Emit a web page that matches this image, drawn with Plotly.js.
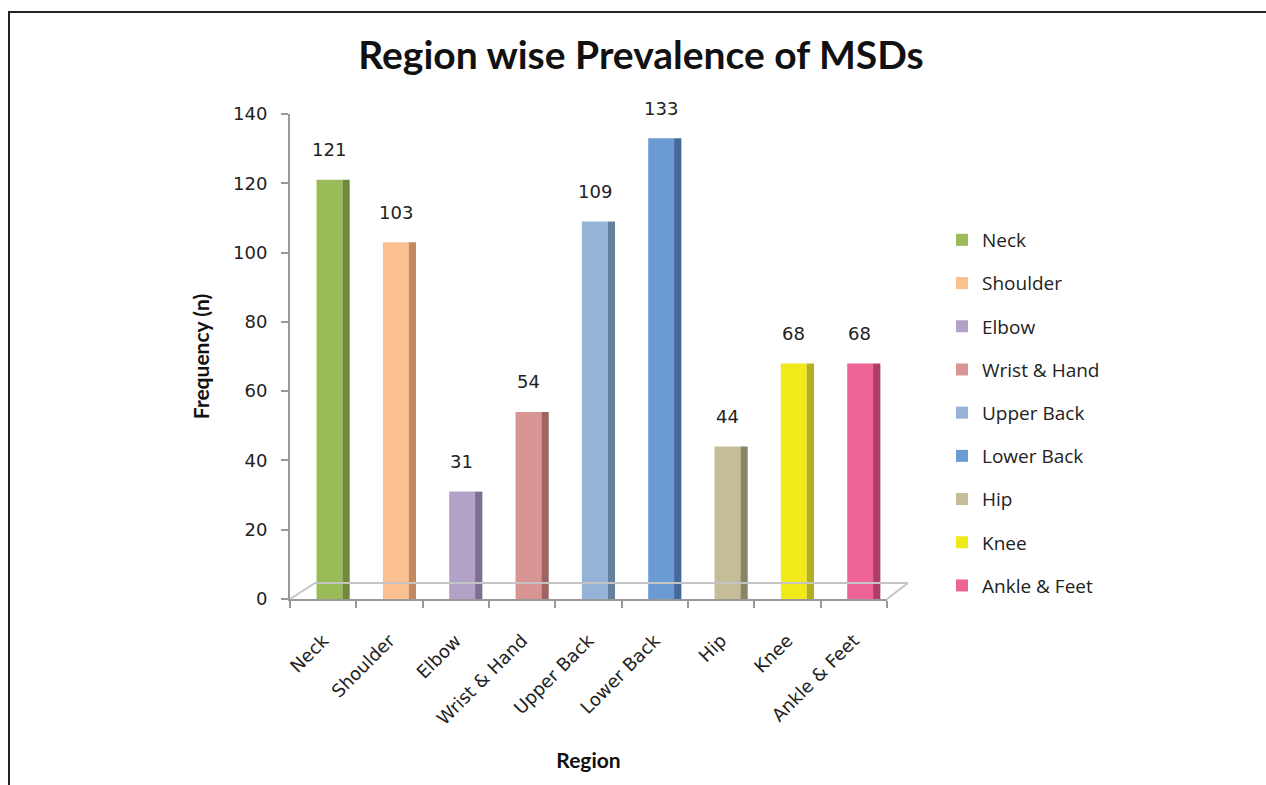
<!DOCTYPE html>
<html>
<head>
<meta charset="utf-8">
<script src="https://cdn.plot.ly/plotly-3.0.1.min.js"></script>
<style>
html,body{margin:0;padding:0;background:#fff;overflow:hidden;}
#chart{position:absolute;left:0;top:0;width:1266px;height:785px;}
#frame{position:absolute;left:8px;top:11px;width:1300px;height:800px;border:2px solid #222;pointer-events:none;}
</style>
</head>
<body>
<div id="chart"></div>
<div id="frame"></div>
<script>
// ---- data ----
const regions = ["Neck","Shoulder","Elbow","Wrist & Hand","Upper Back","Lower Back","Hip","Knee","Ankle & Feet"];
const frequency = [121,103,31,54,109,133,44,68,68];
const frontColors = ["#9BBB59","#FAC090","#B3A2C7","#D99594","#95B3D7","#6A9BD3","#C4BD97","#F0EA1A","#EF6496"];
const sideColors  = ["#6F8A3A","#C08A5E","#7D6F92","#9C6463","#64809F","#46699C","#8A8466","#B3AE22","#AE3E66"];
const yTicks = [0,20,40,60,80,100,120,140];

const traces = [];
regions.forEach((r,i)=>{
  traces.push({
    type:'bar', name:r, legendgroup:r,
    x:[r], y:[frequency[i]],
    offset:-0.1, width:0.39,
    marker:{color:frontColors[i], line:{width:0}},
    hoverinfo:'x+y'
  });
  traces.push({
    type:'bar', name:r, legendgroup:r, showlegend:false,
    x:[r], y:[frequency[i]],
    offset:0.29, width:0.11,
    marker:{color:sideColors[i], line:{width:0}},
    hoverinfo:'skip'
  });
});

// value labels, placed from the data through the axes
const labels = regions.map((r,i)=>({
  x:r, y:frequency[i], xref:'x', yref:'y',
  text:String(frequency[i]), showarrow:false,
  xanchor:'center', yanchor:'middle', xshift:6, yshift:30,
  font:{family:'DejaVu Sans', size:18, color:'#222'}
}));

const W = 597, H = 485;
const layout = {
  width:1266, height:785,
  margin:{l:290, r:379, t:114, b:186},
  paper_bgcolor:'#fff', plot_bgcolor:'#fff',
  barmode:'overlay',
  showlegend:true,
  title:{text:'Region wise Prevalence of MSDs', x:641/1266, xanchor:'center', xref:'container',
         y:1-55/785, yanchor:'middle', yref:'container',
         font:{family:'Lato', size:39, color:'#111', weight:'bold'}},
  xaxis:{
    type:'category', categoryorder:'array', categoryarray:regions,
    range:[-0.5, regions.length-0.5],
    showline:true, linecolor:'#999', linewidth:2,
    ticks:'outside', tickson:'boundaries', ticklen:7, tickcolor:'#999', tickwidth:2,
    tickangle:-45, ticklabelstandoff:22,
    tickfont:{family:'DejaVu Sans', size:18, color:'#222'},
    showgrid:false, zeroline:false, automargin:false,
    title:{text:'Region', standoff:26, font:{family:'Lato', size:21, color:'#111', weight:'bold'}}
  },
  yaxis:{
    range:[0,140], tickvals:yTicks, ticktext:yTicks.map(String),
    showline:true, linecolor:'#999', linewidth:2,
    ticks:'outside', ticklen:7, tickcolor:'#999', tickwidth:2,
    ticklabelstandoff:10,
    tickfont:{family:'DejaVu Sans', size:18, color:'#222'},
    showgrid:false, zeroline:false, automargin:false,
    title:{text:'Frequency (n)', standoff:18, font:{family:'Lato', size:21, color:'#111', weight:'bold'}}
  },
  legend:{
    x:(942-290)/W, xanchor:'left', y:(599-221)/H, yanchor:'top',
    font:{family:'Open Sans', size:19, color:'#222'},
    traceorder:'grouped', tracegroupgap:15.5, itemclick:false, bgcolor:'rgba(0,0,0,0)'
  },
  annotations: labels,
  shapes:[
    // 3D floor outline (decorative)
    {type:'line', xref:'paper', yref:'paper', x0:25/W, y0:16/H, x1:1+21/W, y1:16/H, line:{color:'#C4C4C4', width:2}},
    {type:'line', xref:'paper', yref:'paper', x0:0, y0:0, x1:25/W, y1:16/H, line:{color:'#C4C4C4', width:2}},
    {type:'line', xref:'paper', yref:'paper', x0:1, y0:0, x1:1+21/W, y1:16/H, line:{color:'#C4C4C4', width:2}}
  ]
};

Plotly.newPlot('chart', traces, layout, {displayModeBar:false, staticPlot:true});
</script>
</body>
</html>
